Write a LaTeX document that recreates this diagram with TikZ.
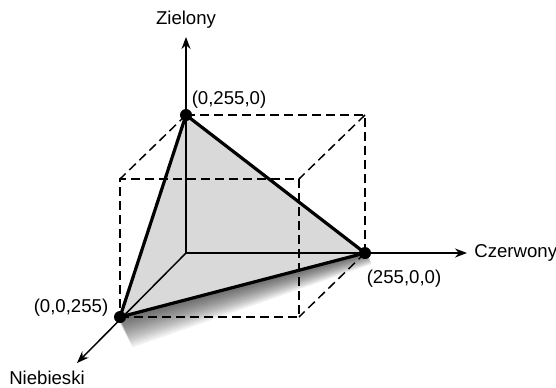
\documentclass[tikz,border=0pt]{standalone}
\usepackage{fontspec}
\setmainfont{Liberation Sans}
\usetikzlibrary{calc,arrows.meta}

\begin{document}
\begin{tikzpicture}[x=0.5pt,y=0.5pt,
    axis/.style={line width=0.75pt,-{Stealth[length=6pt,width=4.5pt]}},
    edge/.style={line width=0.75pt,dash pattern=on 4.5pt off 2.5pt},
    side/.style={line width=1.6pt,line join=round},
    lbl/.style={font=\fontsize{9.3}{11}\selectfont,inner sep=0pt}]
            \useasboundingbox (0,0) rectangle (556,387);
            % Coordinates
            \coordinate (O) at (186,134);
            \coordinate (R) at (365,134);
            \coordinate (G) at (186,272);
            \coordinate (B) at (120,70);
            \coordinate (GR) at (365,272);
            \coordinate (BR) at (299,70);
            \coordinate (BG) at (120,208);
            \coordinate (BGR) at (299,208);
            \coordinate (Gend) at (186,350);
            \coordinate (Rend) at (467,134);
            \coordinate (Bend) at (77,24);
            % Shadow
            \foreach \k in {1,...,16} {
                    \fill[black,opacity=0.05] ($(B)+(-0.2*\k,0)$) -- ($(R)+(0.2*\k,0)$) -- ($(R)+(0.4*\k,-0.7*\k)$) -- ($(B)+(0.8*\k,-1.9*\k)$) -- cycle;
                }
            % Triangle
            \fill[black!15] (G)--(R)--(B)--cycle;
            % Cube
            \draw[edge] (G)--(GR)--(R);
            \draw[edge] (G)--(BG);
            \draw[edge] (GR)--(BGR);
            \draw[edge] (R)--(BR);
            \draw[edge] (B)--(BR)--(BGR)--(BG)--cycle;
            % Axes
            \draw[axis] (O)--(Gend);
            \draw[axis] (O)--(Rend);
            \draw[axis] (O)--(Bend);
            \draw[side] (G)--(R)--(B)--cycle;
            % Corner dots
            \foreach \P in {G, R, B} {
                    \fill[black] (\P) circle (6);
                }
            % Labels
            \node[lbl] (zielony) at (186,367) {Zielony};
            \node[lbl,anchor=west] (czerwony) at (474,134) {Czerwony};
            \node[lbl] (niebieski) at (47,9) {Niebieski};
            \node[lbl] (pG) at (229,287) {(0,255,0)};
            \node[lbl] (pR) at (404,108) {(255,0,0)};
            \node[lbl] (pB) at (71,79) {(0,0,255)};
\end{tikzpicture}
\end{document}
